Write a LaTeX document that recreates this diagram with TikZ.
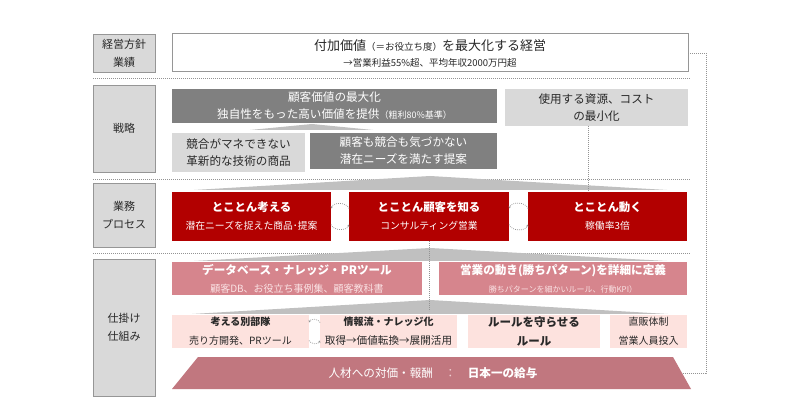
\documentclass[tikz,border=0pt]{standalone}
\usepackage{fontspec}
\setmainfont{Noto Sans CJK JP}
\usetikzlibrary{arrows.meta}
\definecolor{dgray}{RGB}{128,128,128}
\definecolor{lgray}{RGB}{217,217,217}
\definecolor{bordgray}{RGB}{150,150,150}
\definecolor{wgray}{RGB}{192,192,192}
\definecolor{redA}{RGB}{178,0,0}
\definecolor{pinkA}{RGB}{214,133,141}
\definecolor{lpink}{RGB}{253,226,222}
\definecolor{trapc}{RGB}{193,119,127}
\definecolor{palepink}{RGB}{250,226,228}
\definecolor{txt}{RGB}{40,40,40}
\newcommand\fs[2]{\fontsize{#1}{#2}\selectfont}
\newcommand\bx[7]{\node[#6, minimum width={(#4)-(#2)}, minimum height={(#5)-(#3)}] (#1) at ({((#2)+(#4))/2},{((#3)+(#5))/2}) {#7};}
\begin{document}
\begin{tikzpicture}[x=1pt,y=-1pt,
  base/.style={inner sep=0pt, outer sep=0pt, align=center, font=\fs{11.6}{17}},
  lab/.style={base, fill=lgray, draw=bordgray, line width=0.8pt, text=txt, font=\fs{11}{18}},
  topbox/.style={base, fill=white, draw=bordgray, line width=1pt, text=txt, font=\fs{13}{16}},
  dgbox/.style={base, fill=dgray, text=white},
  lgbox/.style={base, fill=lgray, text=txt},
  redbox/.style={base, fill=redA, text=white, font=\fs{9.8}{18}},
  pinkbox/.style={base, fill=pinkA, text=white, font=\fs{11.6}{18}\bfseries},
  lpbox/.style={base, fill=lpink, text=txt, font=\fs{10}{19}},
  wedge/.style={fill=wgray},
  dotl/.style={draw=gray!85, line width=0.7pt, dash pattern=on 0.8pt off 1.2pt},
  cyc/.style={dotl, -{Stealth[length=2.4pt,width=2.4pt]}}
]
\useasboundingbox (0,0) rectangle (800,419);
\fill[white] (0,0) rectangle (800,419);

% separators
\draw[dotl] (93,78) -- (690,78);
\draw[dotl] (93,179) -- (690,179);
\draw[dotl] (93,253) -- (690,253);

% wedges
\fill[wedge] (250,130) -- (312,124) -- (373,130) -- cycle;
\fill[wedge] (194,190) -- (430,176) -- (667,190) -- cycle;
\fill[wedge] (194,261) -- (430,248) -- (667,261) -- cycle;
\fill[wedge] (192,314) -- (430,300) -- (668,314) -- cycle;

% left labels
\bx{L1}{93}{34}{155}{72}{lab}{経営方針\\業績}
\bx{L2}{93}{85}{155}{172}{lab}{戦略}
\bx{L3}{93}{183}{155}{247}{lab}{業務\\プロセス}
\bx{L4}{93}{259}{155}{396}{lab}{仕掛け\\仕組み}

% top
\bx{T}{172}{34}{688}{72}{topbox}{付加価値{\fs{9.5}{16}（＝お役立ち度）}を最大化する経営\\{\fs{9.5}{16}→営業利益55\%超、平均年収2000万円超}}

% strategy
\bx{S1}{172}{89}{497}{123}{dgbox}{顧客価値の最大化\\独自性をもった高い価値を提供{\fs{9}{17}（粗利80\%基準）}}
\bx{R1}{505}{89}{688}{126}{lgbox}{使用する資源、コスト\\の最小化}
\bx{S2}{172}{133}{305}{172}{lgbox}{競合がマネできない\\革新的な技術の商品}
\bx{S3}{310}{133}{497}{169}{dgbox}{顧客も競合も気づかない\\潜在ニーズを満たす提案}

% process
\bx{P1}{172}{192}{331}{241}{redbox}{{\fs{11.4}{18}\bfseries とことん考える}\\潜在ニーズを捉えた商品･提案}
\bx{P2}{349}{192}{509}{241}{redbox}{{\fs{11.4}{18}\bfseries とことん顧客を知る}\\コンサルティング営業}
\bx{P3}{528}{192}{687}{241}{redbox}{{\fs{11.4}{18}\bfseries とことん動く}\\稼働率3倍}

% mechanisms
\bx{M1}{172}{262}{422}{295}{pinkbox}{データベース・ナレッジ・PRツール\\{\fs{10}{18}\mdseries\color{palepink}顧客DB、お役立ち事例集、顧客教科書}}
\bx{M2}{439}{262}{687}{295}{pinkbox}{営業の動き(勝ちパターン)を詳細に定義\\{\fs{8}{18}\mdseries\color{palepink}勝ちパターンを細かいルール、行動KPI）}}
\bx{K1}{172}{315}{309}{348}{lpbox}{{\bfseries 考える別部隊}\\売り方開発、PRツール}
\bx{K2}{320}{315}{457}{348}{lpbox}{{\bfseries 情報流・ナレッジ化}\\{\fs{10.6}{19}取得→価値転換→展開活用}}
\bx{K3}{468}{315}{600}{348}{lpbox, font=\fs{11.5}{19}\bfseries}{ルールを守らせる\\ルール}
\bx{K4}{610}{315}{687}{348}{lpbox}{直販体制\\営業人員投入}

% base trapezoid
\fill[trapc] (198,357) -- (673,357) -- (691,389) -- (172,389) -- cycle;
\node[base, text=white] (TR) at (433,373) {人材への対価・報酬　\textcolor{palepink!80!trapc}{：}　{\bfseries 日本一の給与}};
\coordinate (trapR) at (682,373);
\coordinate (e2) at (429,311);

% cycle arcs
\draw[cyc] ([yshift=8pt]P2.west) to[bend right=70] ([yshift=8pt]P1.east);
\draw[cyc] ([yshift=-8pt]P1.east) to[bend right=70] ([yshift=-8pt]P2.west);
\draw[cyc] ([yshift=8pt]P3.west) to[bend right=70] ([yshift=8pt]P2.east);
\draw[cyc] ([yshift=-8pt]P2.east) to[bend right=70] ([yshift=-8pt]P3.west);
\draw[cyc] ([yshift=9pt]K2.west) to[bend right=70] ([yshift=9pt]K1.east);
\draw[cyc] ([yshift=-9pt]K1.east) to[bend right=70] ([yshift=-9pt]K2.west);

% dotted connectors
\draw[dotl] ([xshift=-8.5pt]R1.south) -- ([xshift=-8.5pt]R1.south |- P3.north);
\draw[dotl] (P2.south) -- (e2);
\draw[dotl] (T.east) -- ++(18,0) |- (trapR);
\end{tikzpicture}
\end{document}
